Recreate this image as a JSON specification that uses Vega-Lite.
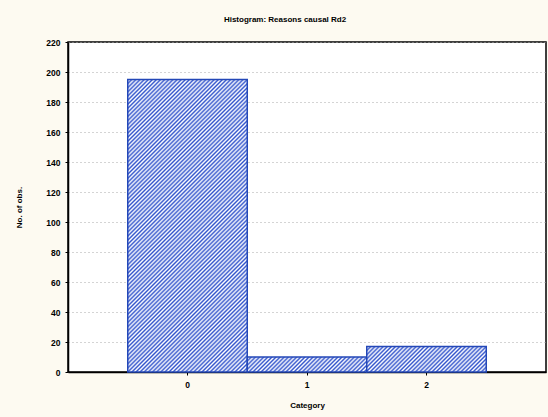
{
  "$schema": "https://vega.github.io/schema/vega-lite/v6.json",
  "autosize": "none",
  "width": 478,
  "height": 330,
  "padding": {"left": 68, "top": 42, "right": 2, "bottom": 45},
  "background": "#fdfaf1",
  "title": {
    "text": "Histogram: Reasons causal Rd2",
    "font": "Liberation Sans",
    "fontSize": 8,
    "fontWeight": "bold",
    "color": "#000",
    "anchor": "middle",
    "dx": -22,
    "offset": 14
  },
  "config": {
    "view": {"fill": "#ffffff", "stroke": "#000000", "strokeWidth": 1.5},
    "axis": {
      "labelFont": "Liberation Sans",
      "labelFontSize": 8.5,
      "labelFontWeight": "bold",
      "labelColor": "#000",
      "titleFont": "Liberation Sans",
      "titleFontSize": 8,
      "titleFontWeight": "bold",
      "titleColor": "#000",
      "domainColor": "#000",
      "domainWidth": 1.5,
      "tickColor": "#000",
      "tickSize": 3
    }
  },
  "data": {
    "values": [
      {"cat": "0", "n": 195},
      {"cat": "1", "n": 10},
      {"cat": "2", "n": 17}
    ]
  },
  "mark": {"type": "bar", "stroke": "#2448b8", "strokeWidth": 1.5},
  "encoding": {
    "x": {
      "field": "cat",
      "type": "ordinal",
      "scale": {"paddingInner": 0, "paddingOuter": 0.5},
      "axis": {"title": "Category", "labelAngle": 0, "labelPadding": 5, "titlePadding": 13, "grid": false}
    },
    "y": {
      "field": "n",
      "type": "quantitative",
      "scale": {"domain": [0, 220], "nice": false},
      "axis": {
        "title": "No. of obs.",
        "values": [0, 20, 40, 60, 80, 100, 120, 140, 160, 180, 200, 220],
        "labelPadding": 5,
        "titleX": -45,
        "grid": true,
        "gridColor": "#a8a8a8",
        "gridDash": [1, 3],
        "gridWidth": 1
      }
    },
    "fill": {
      "condition": [
        {
          "test": "datum.cat === '0'",
          "value": {
            "gradient": "linear",
            "x1": 0, "y1": 0, "x2": 0.49315, "y2": 1.20707,
            "stops": [
              {"offset":0,"color":"#35c"},{"offset":0.005,"color":"#fff"},{"offset":0.01,"color":"#35c"},{"offset":0.015,"color":"#fff"},{"offset":0.02,"color":"#35c"},{"offset":0.025,"color":"#fff"},{"offset":0.03,"color":"#35c"},{"offset":0.035,"color":"#fff"},{"offset":0.04,"color":"#35c"},{"offset":0.045,"color":"#fff"},
              {"offset":0.05,"color":"#35c"},{"offset":0.055,"color":"#fff"},{"offset":0.06,"color":"#35c"},{"offset":0.065,"color":"#fff"},{"offset":0.07,"color":"#35c"},{"offset":0.075,"color":"#fff"},{"offset":0.08,"color":"#35c"},{"offset":0.085,"color":"#fff"},{"offset":0.09,"color":"#35c"},{"offset":0.095,"color":"#fff"},
              {"offset":0.1,"color":"#35c"},{"offset":0.105,"color":"#fff"},{"offset":0.11,"color":"#35c"},{"offset":0.115,"color":"#fff"},{"offset":0.12,"color":"#35c"},{"offset":0.125,"color":"#fff"},{"offset":0.13,"color":"#35c"},{"offset":0.135,"color":"#fff"},{"offset":0.14,"color":"#35c"},{"offset":0.145,"color":"#fff"},
              {"offset":0.15,"color":"#35c"},{"offset":0.155,"color":"#fff"},{"offset":0.16,"color":"#35c"},{"offset":0.165,"color":"#fff"},{"offset":0.17,"color":"#35c"},{"offset":0.175,"color":"#fff"},{"offset":0.18,"color":"#35c"},{"offset":0.185,"color":"#fff"},{"offset":0.19,"color":"#35c"},{"offset":0.195,"color":"#fff"},
              {"offset":0.2,"color":"#35c"},{"offset":0.205,"color":"#fff"},{"offset":0.21,"color":"#35c"},{"offset":0.215,"color":"#fff"},{"offset":0.22,"color":"#35c"},{"offset":0.225,"color":"#fff"},{"offset":0.23,"color":"#35c"},{"offset":0.235,"color":"#fff"},{"offset":0.24,"color":"#35c"},{"offset":0.245,"color":"#fff"},
              {"offset":0.25,"color":"#35c"},{"offset":0.255,"color":"#fff"},{"offset":0.26,"color":"#35c"},{"offset":0.265,"color":"#fff"},{"offset":0.27,"color":"#35c"},{"offset":0.275,"color":"#fff"},{"offset":0.28,"color":"#35c"},{"offset":0.285,"color":"#fff"},{"offset":0.29,"color":"#35c"},{"offset":0.295,"color":"#fff"},
              {"offset":0.3,"color":"#35c"},{"offset":0.305,"color":"#fff"},{"offset":0.31,"color":"#35c"},{"offset":0.315,"color":"#fff"},{"offset":0.32,"color":"#35c"},{"offset":0.325,"color":"#fff"},{"offset":0.33,"color":"#35c"},{"offset":0.335,"color":"#fff"},{"offset":0.34,"color":"#35c"},{"offset":0.345,"color":"#fff"},
              {"offset":0.35,"color":"#35c"},{"offset":0.355,"color":"#fff"},{"offset":0.36,"color":"#35c"},{"offset":0.365,"color":"#fff"},{"offset":0.37,"color":"#35c"},{"offset":0.375,"color":"#fff"},{"offset":0.38,"color":"#35c"},{"offset":0.385,"color":"#fff"},{"offset":0.39,"color":"#35c"},{"offset":0.395,"color":"#fff"},
              {"offset":0.4,"color":"#35c"},{"offset":0.405,"color":"#fff"},{"offset":0.41,"color":"#35c"},{"offset":0.415,"color":"#fff"},{"offset":0.42,"color":"#35c"},{"offset":0.425,"color":"#fff"},{"offset":0.43,"color":"#35c"},{"offset":0.435,"color":"#fff"},{"offset":0.44,"color":"#35c"},{"offset":0.445,"color":"#fff"},
              {"offset":0.45,"color":"#35c"},{"offset":0.455,"color":"#fff"},{"offset":0.46,"color":"#35c"},{"offset":0.465,"color":"#fff"},{"offset":0.47,"color":"#35c"},{"offset":0.475,"color":"#fff"},{"offset":0.48,"color":"#35c"},{"offset":0.485,"color":"#fff"},{"offset":0.49,"color":"#35c"},{"offset":0.495,"color":"#fff"},
              {"offset":0.5,"color":"#35c"},{"offset":0.505,"color":"#fff"},{"offset":0.51,"color":"#35c"},{"offset":0.515,"color":"#fff"},{"offset":0.52,"color":"#35c"},{"offset":0.525,"color":"#fff"},{"offset":0.53,"color":"#35c"},{"offset":0.535,"color":"#fff"},{"offset":0.54,"color":"#35c"},{"offset":0.545,"color":"#fff"},
              {"offset":0.55,"color":"#35c"},{"offset":0.555,"color":"#fff"},{"offset":0.56,"color":"#35c"},{"offset":0.565,"color":"#fff"},{"offset":0.57,"color":"#35c"},{"offset":0.575,"color":"#fff"},{"offset":0.58,"color":"#35c"},{"offset":0.585,"color":"#fff"},{"offset":0.59,"color":"#35c"},{"offset":0.595,"color":"#fff"},
              {"offset":0.6,"color":"#35c"},{"offset":0.605,"color":"#fff"},{"offset":0.61,"color":"#35c"},{"offset":0.615,"color":"#fff"},{"offset":0.62,"color":"#35c"},{"offset":0.625,"color":"#fff"},{"offset":0.63,"color":"#35c"},{"offset":0.635,"color":"#fff"},{"offset":0.64,"color":"#35c"},{"offset":0.645,"color":"#fff"},
              {"offset":0.65,"color":"#35c"},{"offset":0.655,"color":"#fff"},{"offset":0.66,"color":"#35c"},{"offset":0.665,"color":"#fff"},{"offset":0.67,"color":"#35c"},{"offset":0.675,"color":"#fff"},{"offset":0.68,"color":"#35c"},{"offset":0.685,"color":"#fff"},{"offset":0.69,"color":"#35c"},{"offset":0.695,"color":"#fff"},
              {"offset":0.7,"color":"#35c"},{"offset":0.705,"color":"#fff"},{"offset":0.71,"color":"#35c"},{"offset":0.715,"color":"#fff"},{"offset":0.72,"color":"#35c"},{"offset":0.725,"color":"#fff"},{"offset":0.73,"color":"#35c"},{"offset":0.735,"color":"#fff"},{"offset":0.74,"color":"#35c"},{"offset":0.745,"color":"#fff"},
              {"offset":0.75,"color":"#35c"},{"offset":0.755,"color":"#fff"},{"offset":0.76,"color":"#35c"},{"offset":0.765,"color":"#fff"},{"offset":0.77,"color":"#35c"},{"offset":0.775,"color":"#fff"},{"offset":0.78,"color":"#35c"},{"offset":0.785,"color":"#fff"},{"offset":0.79,"color":"#35c"},{"offset":0.795,"color":"#fff"},
              {"offset":0.8,"color":"#35c"},{"offset":0.805,"color":"#fff"},{"offset":0.81,"color":"#35c"},{"offset":0.815,"color":"#fff"},{"offset":0.82,"color":"#35c"},{"offset":0.825,"color":"#fff"},{"offset":0.83,"color":"#35c"},{"offset":0.835,"color":"#fff"},{"offset":0.84,"color":"#35c"},{"offset":0.845,"color":"#fff"},
              {"offset":0.85,"color":"#35c"},{"offset":0.855,"color":"#fff"},{"offset":0.86,"color":"#35c"},{"offset":0.865,"color":"#fff"},{"offset":0.87,"color":"#35c"},{"offset":0.875,"color":"#fff"},{"offset":0.88,"color":"#35c"},{"offset":0.885,"color":"#fff"},{"offset":0.89,"color":"#35c"},{"offset":0.895,"color":"#fff"},
              {"offset":0.9,"color":"#35c"},{"offset":0.905,"color":"#fff"},{"offset":0.91,"color":"#35c"},{"offset":0.915,"color":"#fff"},{"offset":0.92,"color":"#35c"},{"offset":0.925,"color":"#fff"},{"offset":0.93,"color":"#35c"},{"offset":0.935,"color":"#fff"},{"offset":0.94,"color":"#35c"},{"offset":0.945,"color":"#fff"},
              {"offset":0.95,"color":"#35c"},{"offset":0.955,"color":"#fff"},{"offset":0.96,"color":"#35c"},{"offset":0.965,"color":"#fff"},{"offset":0.97,"color":"#35c"},{"offset":0.975,"color":"#fff"},{"offset":0.98,"color":"#35c"},{"offset":0.985,"color":"#fff"},{"offset":0.99,"color":"#35c"},{"offset":0.995,"color":"#fff"},
              {"offset":1,"color":"#35c"}
            ]
          }
        },
        {
          "test": "datum.cat === '1'",
          "value": {
            "gradient": "linear",
            "x1": 0, "y1": 0, "x2": 3.3943, "y2": 0.42605,
            "stops": [
              {"offset":0,"color":"#35c"},{"offset":0.005,"color":"#fff"},{"offset":0.01,"color":"#35c"},{"offset":0.015,"color":"#fff"},{"offset":0.02,"color":"#35c"},{"offset":0.025,"color":"#fff"},{"offset":0.03,"color":"#35c"},{"offset":0.035,"color":"#fff"},{"offset":0.04,"color":"#35c"},{"offset":0.045,"color":"#fff"},
              {"offset":0.05,"color":"#35c"},{"offset":0.055,"color":"#fff"},{"offset":0.06,"color":"#35c"},{"offset":0.065,"color":"#fff"},{"offset":0.07,"color":"#35c"},{"offset":0.075,"color":"#fff"},{"offset":0.08,"color":"#35c"},{"offset":0.085,"color":"#fff"},{"offset":0.09,"color":"#35c"},{"offset":0.095,"color":"#fff"},
              {"offset":0.1,"color":"#35c"},{"offset":0.105,"color":"#fff"},{"offset":0.11,"color":"#35c"},{"offset":0.115,"color":"#fff"},{"offset":0.12,"color":"#35c"},{"offset":0.125,"color":"#fff"},{"offset":0.13,"color":"#35c"},{"offset":0.135,"color":"#fff"},{"offset":0.14,"color":"#35c"},{"offset":0.145,"color":"#fff"},
              {"offset":0.15,"color":"#35c"},{"offset":0.155,"color":"#fff"},{"offset":0.16,"color":"#35c"},{"offset":0.165,"color":"#fff"},{"offset":0.17,"color":"#35c"},{"offset":0.175,"color":"#fff"},{"offset":0.18,"color":"#35c"},{"offset":0.185,"color":"#fff"},{"offset":0.19,"color":"#35c"},{"offset":0.195,"color":"#fff"},
              {"offset":0.2,"color":"#35c"},{"offset":0.205,"color":"#fff"},{"offset":0.21,"color":"#35c"},{"offset":0.215,"color":"#fff"},{"offset":0.22,"color":"#35c"},{"offset":0.225,"color":"#fff"},{"offset":0.23,"color":"#35c"},{"offset":0.235,"color":"#fff"},{"offset":0.24,"color":"#35c"},{"offset":0.245,"color":"#fff"},
              {"offset":0.25,"color":"#35c"},{"offset":0.255,"color":"#fff"},{"offset":0.26,"color":"#35c"},{"offset":0.265,"color":"#fff"},{"offset":0.27,"color":"#35c"},{"offset":0.275,"color":"#fff"},{"offset":0.28,"color":"#35c"},{"offset":0.285,"color":"#fff"},{"offset":0.29,"color":"#35c"},{"offset":0.295,"color":"#fff"},
              {"offset":0.3,"color":"#35c"},{"offset":0.305,"color":"#fff"},{"offset":0.31,"color":"#35c"},{"offset":0.315,"color":"#fff"},{"offset":0.32,"color":"#35c"},{"offset":0.325,"color":"#fff"},{"offset":0.33,"color":"#35c"}
            ]
          }
        }
      ],
      "value": {
        "gradient": "linear",
        "x1": 0, "y1": 0, "x2": 3.2975, "y2": 0.70366,
        "stops": [
          {"offset":0,"color":"#35c"},{"offset":0.005,"color":"#fff"},{"offset":0.01,"color":"#35c"},{"offset":0.015,"color":"#fff"},{"offset":0.02,"color":"#35c"},{"offset":0.025,"color":"#fff"},{"offset":0.03,"color":"#35c"},{"offset":0.035,"color":"#fff"},{"offset":0.04,"color":"#35c"},{"offset":0.045,"color":"#fff"},
          {"offset":0.05,"color":"#35c"},{"offset":0.055,"color":"#fff"},{"offset":0.06,"color":"#35c"},{"offset":0.065,"color":"#fff"},{"offset":0.07,"color":"#35c"},{"offset":0.075,"color":"#fff"},{"offset":0.08,"color":"#35c"},{"offset":0.085,"color":"#fff"},{"offset":0.09,"color":"#35c"},{"offset":0.095,"color":"#fff"},
          {"offset":0.1,"color":"#35c"},{"offset":0.105,"color":"#fff"},{"offset":0.11,"color":"#35c"},{"offset":0.115,"color":"#fff"},{"offset":0.12,"color":"#35c"},{"offset":0.125,"color":"#fff"},{"offset":0.13,"color":"#35c"},{"offset":0.135,"color":"#fff"},{"offset":0.14,"color":"#35c"},{"offset":0.145,"color":"#fff"},
          {"offset":0.15,"color":"#35c"},{"offset":0.155,"color":"#fff"},{"offset":0.16,"color":"#35c"},{"offset":0.165,"color":"#fff"},{"offset":0.17,"color":"#35c"},{"offset":0.175,"color":"#fff"},{"offset":0.18,"color":"#35c"},{"offset":0.185,"color":"#fff"},{"offset":0.19,"color":"#35c"},{"offset":0.195,"color":"#fff"},
          {"offset":0.2,"color":"#35c"},{"offset":0.205,"color":"#fff"},{"offset":0.21,"color":"#35c"},{"offset":0.215,"color":"#fff"},{"offset":0.22,"color":"#35c"},{"offset":0.225,"color":"#fff"},{"offset":0.23,"color":"#35c"},{"offset":0.235,"color":"#fff"},{"offset":0.24,"color":"#35c"},{"offset":0.245,"color":"#fff"},
          {"offset":0.25,"color":"#35c"},{"offset":0.255,"color":"#fff"},{"offset":0.26,"color":"#35c"},{"offset":0.265,"color":"#fff"},{"offset":0.27,"color":"#35c"},{"offset":0.275,"color":"#fff"},{"offset":0.28,"color":"#35c"},{"offset":0.285,"color":"#fff"},{"offset":0.29,"color":"#35c"},{"offset":0.295,"color":"#fff"},
          {"offset":0.3,"color":"#35c"},{"offset":0.305,"color":"#fff"},{"offset":0.31,"color":"#35c"},{"offset":0.315,"color":"#fff"},{"offset":0.32,"color":"#35c"},{"offset":0.325,"color":"#fff"},{"offset":0.33,"color":"#35c"},{"offset":0.335,"color":"#fff"},{"offset":0.34,"color":"#35c"},{"offset":0.345,"color":"#fff"},
          {"offset":0.35,"color":"#35c"},{"offset":0.355,"color":"#fff"},{"offset":0.36,"color":"#35c"}
        ]
      }
    }
  }
}
